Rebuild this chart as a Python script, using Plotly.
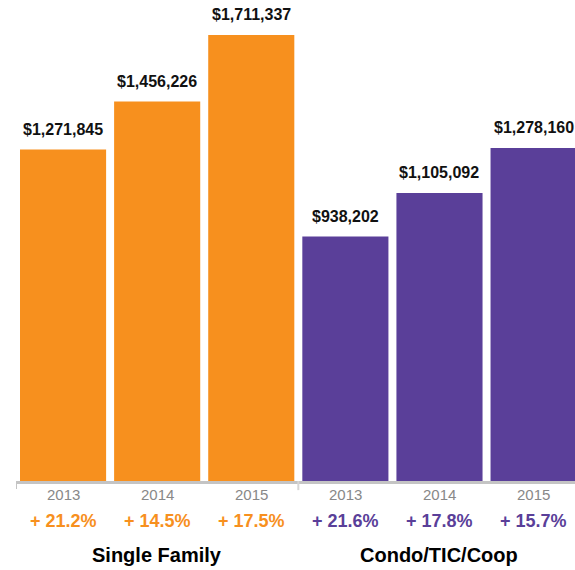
import plotly.graph_objects as go

# data
groups = ["Single Family", "Condo/TIC/Coop"]
years = ["2013", "2014", "2015"]
single_family = [1271845, 1456226, 1711337]
condo = [938202, 1105092, 1278160]
sf_change = ["+ 21.2%", "+ 14.5%", "+ 17.5%"]
condo_change = ["+ 21.6%", "+ 17.8%", "+ 15.7%"]

orange = "#F7901E"
purple = "#5A3F99"
font_fam = "Liberation Sans, Arial, sans-serif"

xs_sf = [0, 1, 2]
xs_co = [3, 4, 5]

fig = go.Figure()
fig.add_trace(go.Bar(x=xs_sf, y=single_family, width=0.915,
                     marker=dict(color=orange, line=dict(width=0)), hoverinfo="y"))
fig.add_trace(go.Bar(x=xs_co, y=condo, width=0.915,
                     marker=dict(color=purple, line=dict(width=0)), hoverinfo="y"))

annotations = []
for xs, vals, chg, col in [(xs_sf, single_family, sf_change, orange),
                           (xs_co, condo, condo_change, purple)]:
    for x, v, c, yr in zip(xs, vals, chg, years):
        # value label above bar
        annotations.append(dict(x=x, y=v, xref="x", yref="y", text="<b>${:,}</b>".format(v),
                                showarrow=False, yanchor="bottom", yshift=10,
                                font=dict(family=font_fam, size=16, color="#111111")))
        # year label
        annotations.append(dict(x=x, y=0, xref="x", yref="y", text=yr,
                                showarrow=False, yanchor="middle", yshift=-13,
                                font=dict(family=font_fam, size=15, color="#888888")))
        # change label
        annotations.append(dict(x=x, y=0, xref="x", yref="y", text="<b>%s</b>" % c,
                                showarrow=False, yanchor="middle", yshift=-40,
                                font=dict(family=font_fam, size=18, color=col)))

for x, g in zip([1, 4], groups):
    annotations.append(dict(x=x, y=0, xref="x", yref="y", text="<b>%s</b>" % g,
                            showarrow=False, yanchor="middle", yshift=-74,
                            font=dict(family=font_fam, size=20, color="#000000")))

# baseline and group ticks (paper refs so they are not clipped)
shapes = [
    dict(type="line", xref="x", yref="paper", x0=-0.51, x1=5.5, y0=-0.0031, y1=-0.0031,
         line=dict(color="#C4C4C4", width=3)),
    dict(type="line", xref="x", yref="paper", x0=-0.5, x1=-0.5, y0=0, y1=-0.0166,
         line=dict(color="#C4C4C4", width=2)),
    dict(type="line", xref="x", yref="paper", x0=2.5, x1=2.5, y0=0, y1=-0.019,
         line=dict(color="#D6D6D6", width=2)),
]

fig.update_layout(
    width=575, height=570,
    margin=dict(l=16, r=0, t=0, b=89),
    plot_bgcolor="white", paper_bgcolor="white",
    showlegend=False,
    xaxis=dict(range=[-0.5, 5.44], visible=False, fixedrange=True),
    yaxis=dict(range=[0, 1846000], visible=False, fixedrange=True),
    annotations=annotations,
    shapes=shapes,
)

# drop the default body margin so the figure fills the window
fig.write_html("out.html", config={"displayModeBar": False},
               post_script="document.body.style.margin='0';document.body.style.overflow='hidden';")
